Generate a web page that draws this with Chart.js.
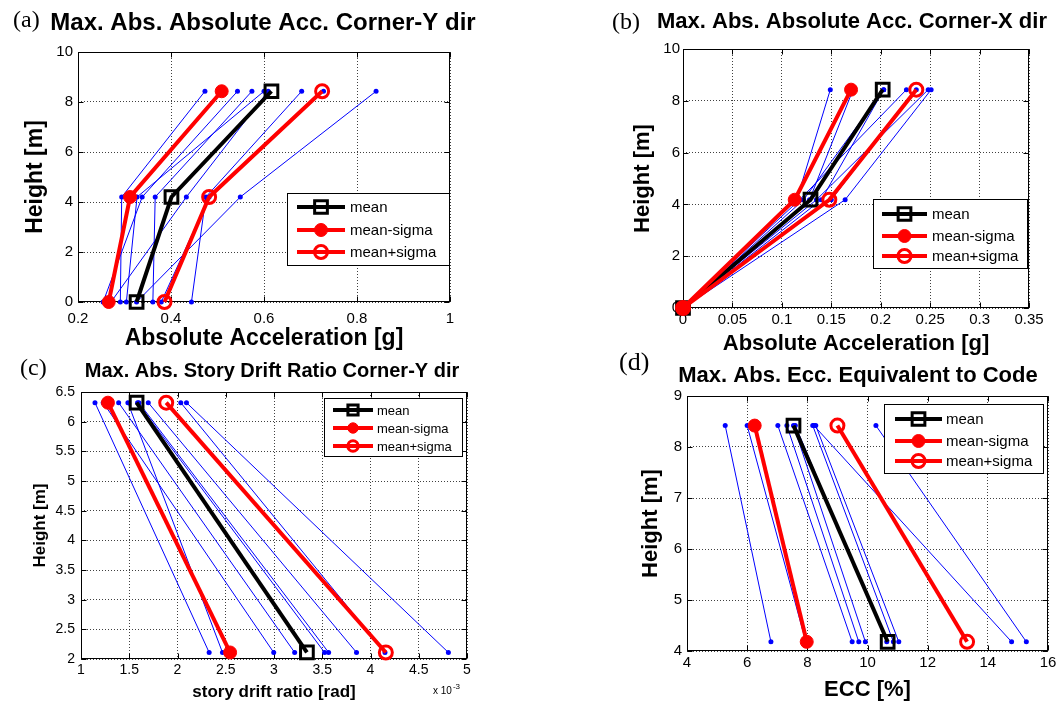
<!DOCTYPE html>
<html lang="en">
<head>
<meta charset="UTF-8">
<title>Max. Abs. response profiles</title>
<script src="https://cdn.jsdelivr.net/npm/chart.js@4"></script>
<style>
  html, body { margin: 0; padding: 0; background: #fff; overflow: hidden; }
  body { width: 1061px; height: 704px; position: relative; }
  canvas { position: absolute; }
  .tag { position: absolute; font-family: "Liberation Serif", "Times New Roman", serif; color: #000; line-height: 1; }
</style>
</head>
<body>
<canvas id="accY"></canvas>
<canvas id="accX"></canvas>
<canvas id="drift"></canvas>
<canvas id="ecc"></canvas>
<div class="tag" style="left:13px;top:7px;font-size:24px">(a)</div>
<div class="tag" style="left:612px;top:9px;font-size:24px">(b)</div>
<div class="tag" style="left:20px;top:355px;font-size:24px">(c)</div>
<div class="tag" style="left:619px;top:349px;font-size:26px">(d)</div>

<script>
// floor levels of each profile [m]
const levelsAccY = [8.43, 4.2, 0];
const levelsAccX = [8.43, 4.18, 0];
const levelsDrift = [6.32, 2.11];
const levelsEcc = [8.42, 4.18];

// (a) peak absolute acceleration, corner Y dir [g] - one row per record
const accYRecords = [
    [0.473, 0.294, 0.291],
    [0.543, 0.338, 0.254],
    [0.574, 0.366, 0.361],
    [0.600, 0.327, 0.304],
    [0.609, 0.433, 0.271],
    [0.681, 0.475, 0.444],
    [0.728, 0.482, 0.379],
    [0.841, 0.549, 0.326]
];
const accYMean = [0.616, 0.401, 0.326];
const accYMinus = [0.509, 0.312, 0.266];
const accYPlus = [0.725, 0.482, 0.386];
const accYTicksX = [0.2, 0.4, 0.6, 0.8, 1];
const accYTicksY = [0, 2, 4, 6, 8, 10];

// (b) peak absolute acceleration, corner X dir [g]
const accXRecords = [
    [0.149, 0.115, 0],
    [0.172, 0.128, 0],
    [0.203, 0.122, 0],
    [0.203, 0.140, 0],
    [0.226, 0.118, 0],
    [0.236, 0.150, 0],
    [0.248, 0.135, 0],
    [0.251, 0.164, 0]
];
const accXMean = [0.202, 0.129, 0];
const accXMinus = [0.170, 0.113, 0];
const accXPlus = [0.236, 0.148, 0];
const accXTicksX = [0, 0.05, 0.1, 0.15, 0.2, 0.25, 0.3, 0.35];
const accXTicksY = [0, 2, 4, 6, 8, 10];

// (c) story drift ratio, corner Y dir [x 10^-3 rad]
const driftRecords = [
    [1.145, 2.328],
    [1.23, 2.997],
    [1.39, 3.214],
    [1.486, 2.466],
    [1.586, 3.524],
    [1.60, 3.566],
    [1.697, 3.855],
    [2.034, 4.15],
    [2.093, 4.807]
];
const driftMean = [1.576, 3.341];
const driftMinus = [1.279, 2.545];
const driftPlus = [1.883, 4.159];
const driftTicksX = [1, 1.5, 2, 2.5, 3, 3.5, 4, 4.5, 5];
const driftTicksY = [2, 2.5, 3, 3.5, 4, 4.5, 5, 5.5, 6, 6.5];

// (d) eccentricity equivalent to code [%]
const eccRecords = [
    [5.27, 6.79],
    [6.0, 7.95],
    [7.02, 9.49],
    [7.32, 9.71],
    [7.54, 9.93],
    [7.6, 10.64],
    [8.18, 10.86],
    [8.28, 11.04],
    [8.22, 14.79],
    [10.28, 15.28]
];
const eccMean = [7.54, 10.67];
const eccMinus = [6.25, 7.98];
const eccPlus = [9.0, 13.31];
const eccTicksX = [4, 6, 8, 10, 12, 14, 16];
const eccTicksY = [4, 5, 6, 7, 8, 9];

const FONT = 'Arial, "Liberation Sans", Helvetica, sans-serif';

// axes box with inward ticks on all four sides
const frameBox = {
    id: 'frameBox',
    beforeDatasetsDraw(chart) {
        const { ctx, chartArea: a, scales } = chart;
        const L = Math.round(a.left) + 0.5, R = Math.round(a.right) - 0.5;
        const T = Math.round(a.top) + 0.5, B = Math.round(a.bottom) - 0.5;
        ctx.save();
        ctx.strokeStyle = '#000';
        ctx.lineWidth = 1;
        ctx.strokeRect(L, T, R - L, B - T);
        ctx.beginPath();
        scales.x.ticks.forEach(t => {
            const px = Math.round(scales.x.getPixelForValue(t.value)) + 0.5;
            ctx.moveTo(px, B); ctx.lineTo(px, B - 5);
            ctx.moveTo(px, T); ctx.lineTo(px, T + 5);
        });
        scales.y.ticks.forEach(t => {
            const py = Math.round(scales.y.getPixelForValue(t.value)) + 0.5;
            ctx.moveTo(L, py); ctx.lineTo(L + 5, py);
            ctx.moveTo(R, py); ctx.lineTo(R - 5, py);
        });
        ctx.stroke();
        ctx.restore();
    }
};

// boxed legend inside the plot, only for the summary curves
const boxLegend = {
    id: 'boxLegend',
    afterDatasetsDraw(chart, args, opts) {
        if (!opts.width) return;
        const { ctx, chartArea: a } = chart;
        const x0 = Math.round(a.left + opts.left), y0 = Math.round(a.top + opts.top);
        const k = opts.markerScale || 1;
        ctx.save();
        ctx.fillStyle = '#fff';
        ctx.fillRect(x0, y0, opts.width, opts.height);
        ctx.strokeStyle = '#000';
        ctx.lineWidth = 1;
        ctx.strokeRect(x0 + 0.5, y0 + 0.5, opts.width, opts.height);
        const entries = chart.data.datasets.filter(d => d.inLegend);
        entries.forEach((ds, i) => {
            const yy = y0 + opts.rows[i];
            ctx.strokeStyle = ds.borderColor;
            ctx.lineWidth = ds.borderWidth;
            ctx.beginPath();
            ctx.moveTo(x0 + opts.lineFrom, yy);
            ctx.lineTo(x0 + opts.lineTo, yy);
            ctx.stroke();
            ctx.fillStyle = ds.pointBackgroundColor;
            ctx.strokeStyle = ds.pointBorderColor;
            ctx.lineWidth = ds.pointBorderWidth;
            Chart.helpers.drawPoint(ctx, {
                pointStyle: ds.pointStyle,
                radius: ds.pointRadius * k,
                borderWidth: ds.pointBorderWidth,
                rotation: 0
            }, x0 + (opts.lineFrom + opts.lineTo) / 2, yy);
            ctx.fillStyle = '#000';
            ctx.font = opts.fontSize + 'px ' + FONT;
            ctx.textBaseline = 'middle';
            ctx.textAlign = 'left';
            ctx.fillText(ds.label, x0 + opts.textX, yy + 1);
        });
        ctx.restore();
    }
};

// "x 10^-3" multiplier under the x axis
const axisExponent = {
    id: 'axisExponent',
    afterDraw(chart, args, opts) {
        if (!opts.base) return;
        const { ctx, chartArea: a } = chart;
        const x = a.right + opts.dx, y = a.bottom + opts.dy;
        ctx.save();
        ctx.fillStyle = '#000';
        ctx.textBaseline = 'alphabetic';
        ctx.textAlign = 'left';
        ctx.font = '10px ' + FONT;
        ctx.fillText(opts.base, x, y);
        const w = ctx.measureText(opts.base).width;
        ctx.font = '8px ' + FONT;
        ctx.fillText(opts.exp, x + w + 1, y - 5);
        ctx.restore();
    }
};

function profileSets(records, mean, minus, plus, levels) {
    const pts = xs => xs.map((v, i) => ({ x: v, y: levels[i] }));
    const common = { showLine: true, tension: 0, clip: false };
    const sets = [
        { ...common, label: 'mean', inLegend: true, data: pts(mean), order: 3,
          borderColor: '#000000', borderWidth: 4,
          pointStyle: 'rect', pointRadius: 9, pointBorderWidth: 3,
          pointBorderColor: '#000000', pointBackgroundColor: 'rgba(0,0,0,0)' },
        { ...common, label: 'mean-sigma', inLegend: true, data: pts(minus), order: 1,
          borderColor: '#ff0000', borderWidth: 4,
          pointStyle: 'circle', pointRadius: 6.5, pointBorderWidth: 1,
          pointBorderColor: '#ff0000', pointBackgroundColor: '#ff0000' },
        { ...common, label: 'mean+sigma', inLegend: true, data: pts(plus), order: 2,
          borderColor: '#ff0000', borderWidth: 4,
          pointStyle: 'circle', pointRadius: 6.5, pointBorderWidth: 3,
          pointBorderColor: '#ff0000', pointBackgroundColor: 'rgba(0,0,0,0)' }
    ];
    records.forEach((r, k) => sets.push({
        ...common, label: 'record ' + (k + 1), data: pts(r), order: 10,
        borderColor: '#0000ff', borderWidth: 1,
        pointStyle: 'circle', pointRadius: 2.5, pointBorderWidth: 0,
        pointBorderColor: '#0000ff', pointBackgroundColor: '#0000ff'
    }));
    return sets;
}

function fmt(v) {
    return String(+v.toFixed(3));
}

function linearAxis(ticks, g, isX) {
    return {
        type: 'linear',
        position: isX ? 'bottom' : 'left',
        min: ticks[0],
        max: ticks[ticks.length - 1],
        afterBuildTicks: s => { s.ticks = ticks.map(v => ({ value: v })); },
        ticks: {
            color: '#000',
            font: { family: FONT, size: g.tickSize },
            padding: isX ? g.xTickPad : g.yTickPad,
            maxRotation: 0,
            autoSkip: false,
            callback: v => fmt(v)
        },
        grid: { color: 'rgba(0,0,0,0.75)', lineWidth: 1, drawTicks: false },
        border: { display: false, dash: [1, 2] },
        title: {
            display: true,
            text: isX ? g.xTitle : 'Height [m]',
            color: '#000',
            font: { family: FONT, size: g.axisTitleSize, weight: 'bold', lineHeight: 1.2 },
            padding: isX ? { top: 0, bottom: g.xTitlePad } : { top: g.yTitlePad, bottom: 0 }
        },
        afterFit: s => { if (isX) s.height = g.xH; else s.width = g.yW; }
    };
}

function drawPanel(id, g, datasets, ticksX, ticksY, legendOpts, exponent) {
    const cv = document.getElementById(id);
    cv.width = g.w; cv.height = g.h;
    cv.style.width = g.w + 'px'; cv.style.height = g.h + 'px';
    cv.style.left = g.left + 'px'; cv.style.top = g.top + 'px';
    return new Chart(cv, {
        type: 'scatter',
        data: { datasets },
        plugins: [frameBox, boxLegend, axisExponent],
        options: {
            responsive: false,
            animation: false,
            events: [],
            layout: { padding: 0 },
            plugins: {
                legend: { display: false },
                tooltip: { enabled: false },
                title: {
                    display: true,
                    text: g.title,
                    color: '#000',
                    font: { family: FONT, size: g.titleSize, weight: 'bold', lineHeight: 1.2 },
                    padding: { top: g.titlePad[0], bottom: g.titlePad[1] }
                },
                boxLegend: legendOpts,
                axisExponent: exponent || {}
            },
            scales: {
                x: linearAxis(ticksX, g, true),
                y: linearAxis(ticksY, g, false),
                // empty right-hand axis keeps the title centred over the plot
                yMirror: {
                    type: 'linear', position: 'right', display: true,
                    ticks: { display: false }, grid: { display: false }, border: { display: false },
                    afterFit: s => { s.width = g.rightW; }
                }
            }
        }
    });
}

drawPanel('accY', {
    left: 0, top: 0, w: 526, h: 356, yW: 78, xH: 54, rightW: 76,
    title: 'Max. Abs. Absolute Acc. Corner-Y dir', titleSize: 24, titlePad: [8.6, 14.6],
    xTitle: 'Absolute Acceleration [g]', axisTitleSize: 23, xTitlePad: 3.2, yTitlePad: 22.2,
    tickSize: 15, xTickPad: 8, yTickPad: 5
}, profileSets(accYRecords, accYMean, accYMinus, accYPlus, levelsAccY), accYTicksX, accYTicksY,
{ left: 209, top: 141, width: 162, height: 72, rows: [14, 37, 59], lineFrom: 10, lineTo: 58, textX: 63, fontSize: 15 });

drawPanel('accX', {
    left: 610, top: 0, w: 484, h: 362, yW: 73, xH: 54, rightW: 65,
    title: 'Max. Abs. Absolute Acc. Corner-X dir', titleSize: 22, titlePad: [8.8, 13.8],
    xTitle: 'Absolute Acceleration [g]', axisTitleSize: 22, xTitlePad: 4.8, yTitlePad: 19.8,
    tickSize: 15, xTickPad: 3, yTickPad: 3
}, profileSets(accXRecords, accXMean, accXMinus, accXPlus, levelsAccX), accXTicksX, accXTicksY,
{ left: 190, top: 150, width: 154, height: 69, rows: [15, 37, 57], lineFrom: 9, lineTo: 54, textX: 59, fontSize: 15 });

drawPanel('drift', {
    left: 0, top: 350, w: 544, h: 354, yW: 81, xH: 45, rightW: 77,
    title: 'Max. Abs. Story Drift Ratio Corner-Y dir', titleSize: 20, titlePad: [9, 9],
    xTitle: 'story drift ratio [rad]', axisTitleSize: 17, xTitlePad: 1.8, yTitlePad: 29.8,
    tickSize: 14, xTickPad: 2.6, yTickPad: 6
}, profileSets(driftRecords, driftMean, driftMinus, driftPlus, levelsDrift), driftTicksX, driftTicksY,
{ left: 243, top: 6, width: 138, height: 58, rows: [12, 30, 48], lineFrom: 9, lineTo: 49, textX: 53, fontSize: 13, markerScale: 0.8 },
{ base: 'x 10', exp: '-3', dx: -34, dy: 35 });

drawPanel('ecc', {
    left: 610, top: 350, w: 496, h: 354, yW: 77, xH: 53, rightW: 58,
    title: 'Max. Abs. Ecc. Equivalent to Code', titleSize: 22, titlePad: [12.8, 6.8],
    xTitle: 'ECC [%]', axisTitleSize: 22, xTitlePad: 0.8, yTitlePad: 27.8,
    tickSize: 15, xTickPad: 3, yTickPad: 5
}, profileSets(eccRecords, eccMean, eccMinus, eccPlus, levelsEcc), eccTicksX, eccTicksY,
{ left: 197, top: 8, width: 159, height: 69, rows: [15, 37, 57], lineFrom: 11, lineTo: 58, textX: 62, fontSize: 15 });
</script>
</body>
</html>
